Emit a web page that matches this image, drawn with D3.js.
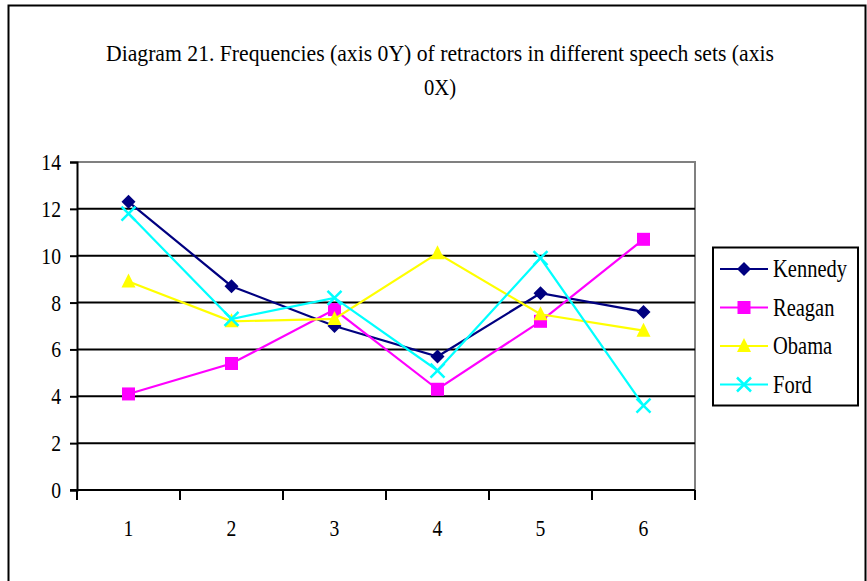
<!DOCTYPE html>
<html>
<head>
<meta charset="utf-8">
<script src="https://cdn.jsdelivr.net/npm/d3@7"></script>
<style>
  html, body { margin: 0; padding: 0; background: #fff; }
  svg { display: block; font-family: "Liberation Serif", "Times New Roman", serif; }
</style>
</head>
<body>
<svg id="chart" width="867" height="581"></svg>
<script>
// Speech sets on the X axis
const categories = ["1", "2", "3", "4", "5", "6"];
// Retractor frequencies per speaker
const kennedy = [12.3, 8.7, 7.0, 5.7, 8.4, 7.6];
const reagan  = [4.1, 5.4, 7.7, 4.3, 7.2, 10.7];
const obama   = [8.9, 7.2, 7.3, 10.1, 7.5, 6.8];
const ford    = [11.8, 7.3, 8.2, 5.1, 9.9, 3.6];
const yTicks  = [0, 2, 4, 6, 8, 10, 12, 14];
const titleLines = [
  "Diagram 21. Frequencies (axis 0Y) of retractors in different speech sets (axis",
  "0X)"
];

const series = [
  { name: "Kennedy", values: kennedy, color: "#000080", marker: "diamond" },
  { name: "Reagan",  values: reagan,  color: "#FF00FF", marker: "square" },
  { name: "Obama",   values: obama,   color: "#FFFF00", marker: "triangle" },
  { name: "Ford",    values: ford,    color: "#00FFFF", marker: "cross" }
];

const FONT_SIZE = 24;
const SQUEEZE = 0.82;   // narrow serif look

// Place a text at (x, y) with horizontally condensed glyphs
function placeText(sel, xf, yf, anchor) {
  sel.attr("x", 0).attr("y", 0)
    .attr("font-size", FONT_SIZE)
    .attr("fill", "#000")
    .attr("text-anchor", anchor)
    .attr("transform", (d, i) => `translate(${xf(d, i)},${yf(d, i)}) scale(${SQUEEZE},1)`);
  return sel;
}

const svg = d3.select("#chart");

// Outer chart frame
svg.append("rect")
  .attr("x", 8.5).attr("y", 5.5)
  .attr("width", 857).attr("height", 590)
  .attr("fill", "#fff").attr("stroke", "#000").attr("stroke-width", 2);

// Title
svg.append("g").selectAll("text")
  .data(titleLines)
  .join("text")
  .attr("x", 440)
  .attr("y", (d, i) => 61 + i * 34)
  .attr("text-anchor", "middle")
  .attr("font-size", FONT_SIZE)
  .attr("fill", "#000")
  .attr("textLength", (d, i) => i === 0 ? 668 : 32)
  .attr("lengthAdjust", "spacingAndGlyphs")
  .text(d => d);

const plot = { left: 77, right: 695, top: 162, bottom: 490 };

const x = d3.scaleBand().domain(categories).range([plot.left, plot.right]);
const y = d3.scaleLinear().domain([0, 14]).range([plot.bottom, plot.top]);

// Plot area border (top and right, grey)
svg.append("path")
  .attr("d", `M${plot.left},${plot.top}H${plot.right}V${plot.bottom}`)
  .attr("fill", "none").attr("stroke", "#808080").attr("stroke-width", 2);

// Horizontal gridlines
svg.append("g").selectAll("line")
  .data(yTicks.filter(t => t > 0 && t < 14))
  .join("line")
  .attr("x1", plot.left).attr("x2", plot.right)
  .attr("y1", d => y(d)).attr("y2", d => y(d))
  .attr("stroke", "#000").attr("stroke-width", 2);

// Y axis (ticks from d3, labels set in the condensed serif)
const yAxis = svg.append("g")
  .attr("transform", `translate(${plot.left},0)`)
  .call(d3.axisLeft(y).tickValues(yTicks).tickSize(7).tickFormat(""));
yAxis.select(".domain").attr("stroke", "#000").attr("stroke-width", 2);
yAxis.selectAll(".tick line").attr("stroke", "#000").attr("stroke-width", 2);
svg.append("g").selectAll("text")
  .data(yTicks)
  .join("text")
  .call(placeText, () => 61, d => y(d) + 8, "end")
  .text(d => d3.format("d")(d));

// X axis: ticks on band boundaries, labels at band centres
const xAxisG = svg.append("g").attr("transform", `translate(0,${plot.bottom})`);
xAxisG.append("line")
  .attr("x1", plot.left - 7).attr("x2", plot.right)
  .attr("stroke", "#000").attr("stroke-width", 2);
const boundaries = categories.map(c => x(c)).concat([x(categories[categories.length - 1]) + x.bandwidth()]);
xAxisG.selectAll("line.tick")
  .data(boundaries)
  .join("line")
  .attr("class", "tick")
  .attr("x1", d => d).attr("x2", d => d)
  .attr("y1", 0).attr("y2", 10)
  .attr("stroke", "#000").attr("stroke-width", 2);
xAxisG.selectAll("text")
  .data(categories)
  .join("text")
  .call(placeText, d => x(d) + x.bandwidth() / 2, () => 46, "middle")
  .text(d => d);

// Marker shapes
function drawMarker(sel, type, color) {
  if (type === "diamond") {
    sel.append("path").attr("d", "M0,-7L7,0L0,7L-7,0Z").attr("fill", color);
  } else if (type === "square") {
    sel.append("rect").attr("x", -6.5).attr("y", -6.5).attr("width", 13).attr("height", 13).attr("fill", color);
  } else if (type === "triangle") {
    sel.append("path").attr("d", "M0,-8L7,6L-7,6Z").attr("fill", color);
  } else {
    sel.append("path").attr("d", "M-7,-7L7,7M7,-7L-7,7")
      .attr("stroke", color).attr("stroke-width", 2.5).attr("fill", "none");
  }
}

const line = d3.line()
  .x((d, i) => x(categories[i]) + x.bandwidth() / 2)
  .y(d => y(d));

series.forEach(s => {
  const g = svg.append("g");
  g.append("path")
    .datum(s.values)
    .attr("d", line)
    .attr("fill", "none")
    .attr("stroke", s.color)
    .attr("stroke-width", 2.2);
  g.selectAll("g.pt")
    .data(s.values)
    .join("g")
    .attr("class", "pt")
    .attr("transform", (d, i) => `translate(${x(categories[i]) + x.bandwidth() / 2},${y(d)})`)
    .each(function () { drawMarker(d3.select(this), s.marker, s.color); });
});

// Legend
const legend = svg.append("g");
legend.append("rect")
  .attr("x", 713).attr("y", 247.5)
  .attr("width", 145).attr("height", 158)
  .attr("fill", "#fff").attr("stroke", "#000").attr("stroke-width", 2);
const items = legend.selectAll("g.item")
  .data(series)
  .join("g")
  .attr("class", "item")
  .attr("transform", (d, i) => `translate(0,${269 + i * 38.5})`);
items.append("line")
  .attr("x1", 720).attr("x2", 768)
  .attr("stroke", d => d.color).attr("stroke-width", 2.2);
items.append("g")
  .attr("transform", "translate(744,0)")
  .each(function (d) { drawMarker(d3.select(this), d.marker, d.color); });
items.append("text")
  .call(placeText, () => 773, () => 8, "start")
  .attr("font-size", 25)
  .text(d => d.name);
</script>
</body>
</html>
